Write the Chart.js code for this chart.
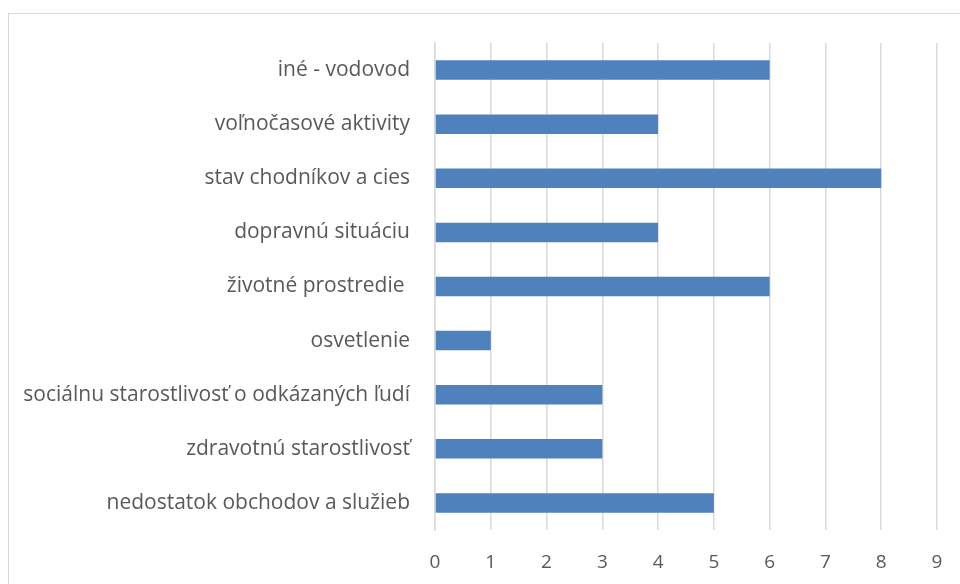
<!DOCTYPE html>
<html>
<head>
<meta charset="utf-8">
<script src="https://cdn.jsdelivr.net/npm/chart.js@4"></script>
<style>
  html, body { margin: 0; padding: 0; background: #fff; overflow: hidden; }
  #frame { position: absolute; left: 8px; top: 13px; width: 1000px; height: 640px; border: 1px solid #d9d9d9; box-sizing: border-box; }
  #wrap { position: absolute; left: 0; top: 0; width: 960px; height: 584px; }
</style>
</head>
<body>
<div id="frame"></div>
<div id="wrap"><canvas id="myChart" width="960" height="584"></canvas></div>
<script>
// Kategórie (zhora nadol) a počty odpovedí
const kategorie = [
    'iné - vodovod',
    'voľnočasové aktivity',
    'stav chodníkov a cies',
    'dopravnú situáciu',
    'životné prostredie ',
    'osvetlenie',
    'sociálnu starostlivosť o odkázaných ľudí',
    'zdravotnú starostlivosť',
    'nedostatok obchodov a služieb'
];
const hodnoty = [6, 4, 8, 4, 6, 1, 3, 3, 5];
const osX = [0, 1, 2, 3, 4, 5, 6, 7, 8, 9];

const textColor = '#595959';
const fontFamily = '"Open Sans", "Noto Sans", sans-serif';

Chart.defaults.animation = false;
const ctx = document.getElementById('myChart').getContext('2d');
const myChart = new Chart(ctx, {
    type: 'bar',
    data: {
        labels: kategorie,
        datasets: [{
            data: hodnoty,
            backgroundColor: '#4f81bd',
            borderColor: '#4f81bd',
            borderWidth: 0,
            categoryPercentage: 0.36,
            barPercentage: 1
        }]
    },
    options: {
        indexAxis: 'y',
        responsive: false,
        layout: { padding: { left: 0, right: 23, top: 43, bottom: 0 } },
        plugins: { legend: { display: false }, tooltip: { enabled: false } },
        scales: {
            x: {
                min: osX[0],
                max: osX[osX.length - 1],
                afterBuildTicks: (scale) => { scale.ticks = osX.map(v => ({ value: v })); },
                grid: { color: '#d9d9d9', lineWidth: 1.5, drawTicks: false },
                border: { display: false },
                ticks: { color: textColor, font: { family: fontFamily, size: 19 }, padding: 21 },
                afterFit: (scale) => {
                    scale.height = 54;
                    scale.paddingLeft = 0;
                    scale.paddingRight = 0;
                }
            },
            y: {
                grid: { display: false },
                border: { display: true, color: '#d9d9d9', width: 1.5 },
                ticks: { color: textColor, font: { family: fontFamily, size: 21 }, padding: 17 },
                afterFit: (scale) => { scale.width = 435; }
            }
        }
    }
});
</script>
</body>
</html>
